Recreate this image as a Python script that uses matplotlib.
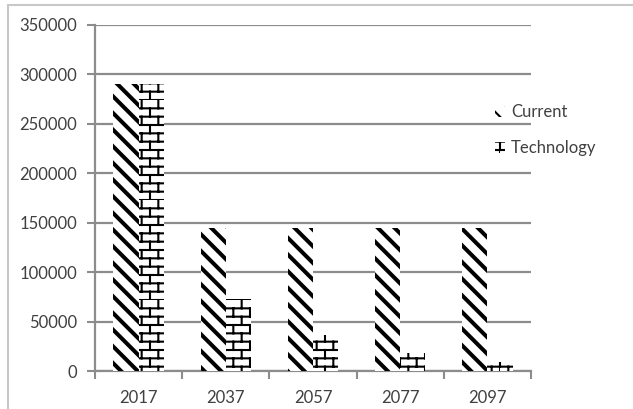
import numpy as np
import matplotlib
matplotlib.use("Agg")
import matplotlib.pyplot as plt
from matplotlib import hatch as mhatch
from matplotlib.path import Path
from matplotlib.patches import Rectangle

# ---- data ----
years = ["2017", "2037", "2057", "2077", "2097"]
current = [290000, 145000, 145000, 145000, 145000]
technology = [290000, 72500, 36250, 18125, 9062]
yticks = [0, 50000, 100000, 150000, 200000, 250000, 300000, 350000]


class BrickHatch(mhatch.HatchPatternBase):
    """Running-bond brick hatch, selected with the 'b' hatch character."""
    rows = 12
    cols = 6

    def __init__(self, hatch, density):
        self.on = hatch.count('b') > 0
        if self.on:
            self.num_vertices = 2 * self.rows + 2 * self.rows * (self.cols + 1)
        else:
            self.num_vertices = 0

    def set_vertices_and_codes(self, vertices, codes):
        i = 0
        h = 1.0 / self.rows
        w = 1.0 / self.cols
        for r in range(self.rows):
            y = r * h
            vertices[i] = (0.0, y)
            vertices[i + 1] = (1.0, y)
            codes[i] = Path.MOVETO
            codes[i + 1] = Path.LINETO
            i += 2
        for r in range(self.rows):
            y0 = r * h
            y1 = (r + 1) * h
            off = 0.5 * w if r % 2 else 0.0
            for c in range(self.cols + 1):
                xx = min(c * w + off, 1.0)
                vertices[i] = (xx, y0)
                vertices[i + 1] = (xx, y1)
                codes[i] = Path.MOVETO
                codes[i + 1] = Path.LINETO
                i += 2


class WideDiagonalHatch(mhatch.HatchPatternBase):
    """Bold top-left to bottom-right stripes that tile seamlessly ('d')."""
    n = 6

    def __init__(self, hatch, density):
        self.on = hatch.count('d') > 0
        self.num_vertices = 2 * (2 * self.n + 1) if self.on else 0

    def set_vertices_and_codes(self, vertices, codes):
        cs = np.arange(2 * self.n + 1) / self.n
        vertices[0::2, 0] = -1.0
        vertices[0::2, 1] = cs + 1.0
        vertices[1::2, 0] = 2.0
        vertices[1::2, 1] = cs - 2.0
        codes[0::2] = Path.MOVETO
        codes[1::2] = Path.LINETO


mhatch._hatch_types.append(BrickHatch)
mhatch._hatch_types.append(WideDiagonalHatch)

text_color = "#404040"
grid_color = "#8c8c8c"
plt.rcParams["font.family"] = ["Lato", "DejaVu Sans"]
plt.rcParams["font.size"] = 12

fig = plt.figure(figsize=(6.33, 4.09), dpi=100)
ax = fig.add_axes([95 / 633, 38 / 409, 436 / 633, 346 / 409])

x = np.arange(len(years))
bw = 0.29

plt.rcParams["hatch.linewidth"] = 2.9
bars_cur = ax.bar(x - bw / 2, current, bw, color="white", edgecolor="black",
                  linewidth=0, hatch="d", label="Current", zorder=3)
for b in bars_cur:
    if hasattr(b, "set_hatch_linewidth"):
        b.set_hatch_linewidth(2.9)

plt.rcParams["hatch.linewidth"] = 1.5
bars_tech = ax.bar(x + bw / 2, technology, bw, color="white", edgecolor="black",
                   linewidth=0, hatch="b", label="Technology", zorder=3)
for b in bars_tech:
    if hasattr(b, "set_hatch_linewidth"):
        b.set_hatch_linewidth(1.5)

ax.set_xlim(-0.5, len(years) - 0.5)
ax.set_ylim(0, 350000)
ax.set_yticks(yticks)
ax.set_yticklabels([str(v) for v in yticks])
ax.yaxis.grid(True, color=grid_color, linewidth=1.6, zorder=0)
ax.set_axisbelow(True)

ax.set_xticks(x)
ax.set_xticklabels(years)
ax.set_xticks(np.arange(len(years) + 1) - 0.5, minor=True)
ax.tick_params(axis="x", which="major", length=0, pad=14, labelcolor=text_color)
ax.tick_params(axis="x", which="minor", length=6, width=1.5, color=grid_color, direction="out")
ax.tick_params(axis="y", length=6, width=1.5, color=grid_color, pad=7, labelcolor=text_color)

for s in ("top", "right"):
    ax.spines[s].set_visible(False)
for s in ("left", "bottom"):
    ax.spines[s].set_color(grid_color)
    ax.spines[s].set_linewidth(1.6)

leg = fig.legend(handles=[bars_cur, bars_tech], loc="upper left",
                 bbox_to_anchor=(487 / 633, 1 - 96 / 409), frameon=False,
                 borderpad=0, handlelength=0.6, handleheight=0.6,
                 handletextpad=0.35, labelspacing=1.2, fontsize=12)
for t in leg.get_texts():
    t.set_color(text_color)

# light frame around the figure
fig.patches.append(Rectangle((8 / 633, -0.1), 1.2, 1 - 5 / 409 + 0.1,
                             transform=fig.transFigure, fill=False,
                             edgecolor="#c8c8c8", linewidth=1.5))

fig.savefig("out.png", dpi=100)
